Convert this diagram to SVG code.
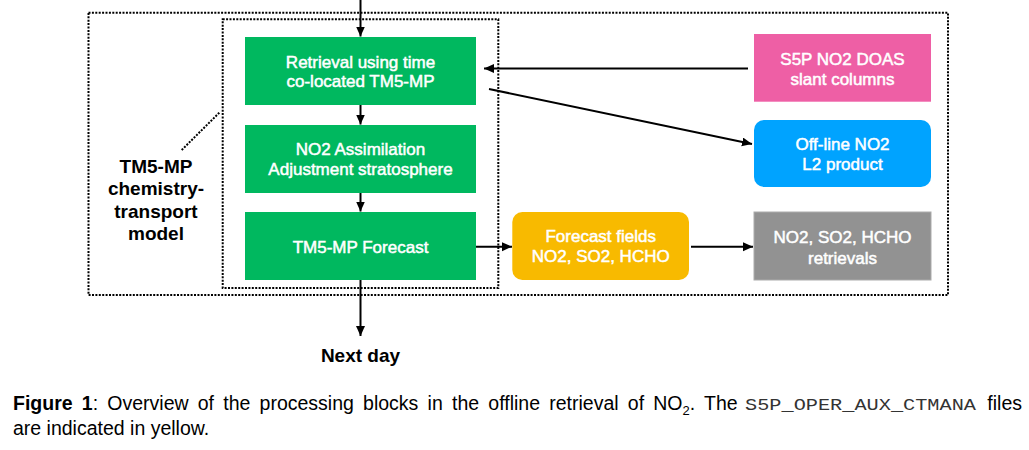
<svg xmlns="http://www.w3.org/2000/svg" width="1029" height="450" viewBox="0 0 1029 450">
<style>
.frame{fill:none;stroke:#000;stroke-width:2;stroke-dasharray:2 1.4}
.conn{fill:none;stroke:#000;stroke-width:2}
.bt{font-family:"Liberation Sans",Arial,sans-serif;fill:#fff;stroke:#fff;stroke-width:0.5;text-anchor:middle;font-size:17px}
.lbl{font-family:"Liberation Sans",Arial,sans-serif;font-weight:bold;fill:#000;text-anchor:middle;font-size:19px}
.cap{font-family:"Liberation Sans",Arial,sans-serif;fill:#000;font-size:19.5px}
.mono{font-family:"Liberation Mono","Courier New",monospace;fill:#333;font-size:17px}
</style>
<defs>
<marker id="ah" markerUnits="userSpaceOnUse" markerWidth="11" markerHeight="10" refX="10" refY="4.5" orient="auto">
<path d="M0,0 L10,4.5 L0,9 z" fill="#000"/>
</marker>
</defs>
<rect id="outer-frame" class="frame" x="88.5" y="12.7" width="859.5" height="282.3"/>
<rect id="inner-frame" class="frame" x="222.7" y="19.3" width="275.6" height="268.7"/>
<g id="connectors">
<line class="conn" x1="360.5" y1="0" x2="360.5" y2="36.5" marker-end="url(#ah)"/>
<line class="conn" x1="360.5" y1="105" x2="360.5" y2="124.5" marker-end="url(#ah)"/>
<line class="conn" x1="360.5" y1="193" x2="360.5" y2="211.5" marker-end="url(#ah)"/>
<line class="conn" x1="360.5" y1="280" x2="360.5" y2="336" marker-end="url(#ah)"/>
<line class="conn" x1="748" y1="68.5" x2="484" y2="68.5" marker-end="url(#ah)"/>
<line class="conn" x1="489" y1="89" x2="752" y2="144" marker-end="url(#ah)"/>
<line class="conn" x1="476" y1="246.7" x2="512" y2="246.7" marker-end="url(#ah)"/>
<line class="conn" x1="691" y1="246.7" x2="753" y2="246.7" marker-end="url(#ah)"/>
<line class="frame" x1="181.7" y1="150" x2="219.3" y2="112.7"/>
</g>
<g id="retrieval">
<rect x="245" y="37" width="231" height="68" fill="#00B85F"/>
<text class="bt" x="360.5" y="68.3">Retrieval using time</text>
<text class="bt" x="360.5" y="86.7">co-located TM5-MP</text>
</g>
<g id="assimilation">
<rect x="245" y="125" width="231" height="68" fill="#00B85F"/>
<text class="bt" x="360.5" y="155">NO2 Assimilation</text>
<text class="bt" x="360.5" y="174.5">Adjustment stratosphere</text>
</g>
<g id="forecast">
<rect x="245" y="212" width="231" height="68" fill="#00B85F"/>
<text class="bt" x="360.5" y="253.3">TM5-MP Forecast</text>
</g>
<g id="doas">
<rect x="754" y="34" width="177" height="67.7" fill="#EE5FA5"/>
<text class="bt" x="842.5" y="65" font-size="16.5px">S5P NO2 DOAS</text>
<text class="bt" x="842.5" y="85" font-size="16.5px">slant columns</text>
</g>
<g id="l2product">
<rect x="754" y="120" width="177" height="67" rx="10" fill="#00A3FF"/>
<text class="bt" x="842.5" y="150">Off-line NO2</text>
<text class="bt" x="842.5" y="170">L2 product</text>
</g>
<g id="forecast-fields">
<rect x="512.3" y="212" width="176.7" height="68" rx="10" fill="#F8BA00"/>
<text class="bt" x="600.7" y="242.3" font-size="16.5px">Forecast fields</text>
<text class="bt" x="600.7" y="262.3" font-size="16.5px">NO2, SO2, HCHO</text>
</g>
<g id="retrievals">
<rect x="754" y="212" width="177" height="68" fill="#929292" stroke="#ababab" stroke-width="1"/>
<text class="bt" x="842.5" y="242.7" font-size="17.8px">NO2, SO2, HCHO</text>
<text class="bt" x="842.5" y="264.3" font-size="17.8px">retrievals</text>
</g>
<g id="tm5-label">
<text class="lbl" x="156" y="172.7">TM5-MP</text>
<text class="lbl" x="156" y="195.2">chemistry-</text>
<text class="lbl" x="156" y="217.7">transport</text>
<text class="lbl" x="156" y="240.4">model</text>
</g>
<g id="next-day">
<text class="lbl" x="360.5" y="361.5" font-size="18.5px">Next day</text>
</g>
<g id="caption">
<text class="cap" x="13" y="410" word-spacing="3.8"><tspan font-weight="bold">Figure 1</tspan>: Overview of the processing blocks in the offline retrieval of NO<tspan dy="5" font-size="13px">2</tspan><tspan dy="-5">. The</tspan></text>
<text class="mono" x="745" y="410" textLength="231" lengthAdjust="spacingAndGlyphs">S5P_OPER_AUX_CTMANA</text>
<text class="cap" x="1022" y="410" text-anchor="end">files</text>
<text class="cap" x="13" y="435">are indicated in yellow.</text>
</g>
</svg>
